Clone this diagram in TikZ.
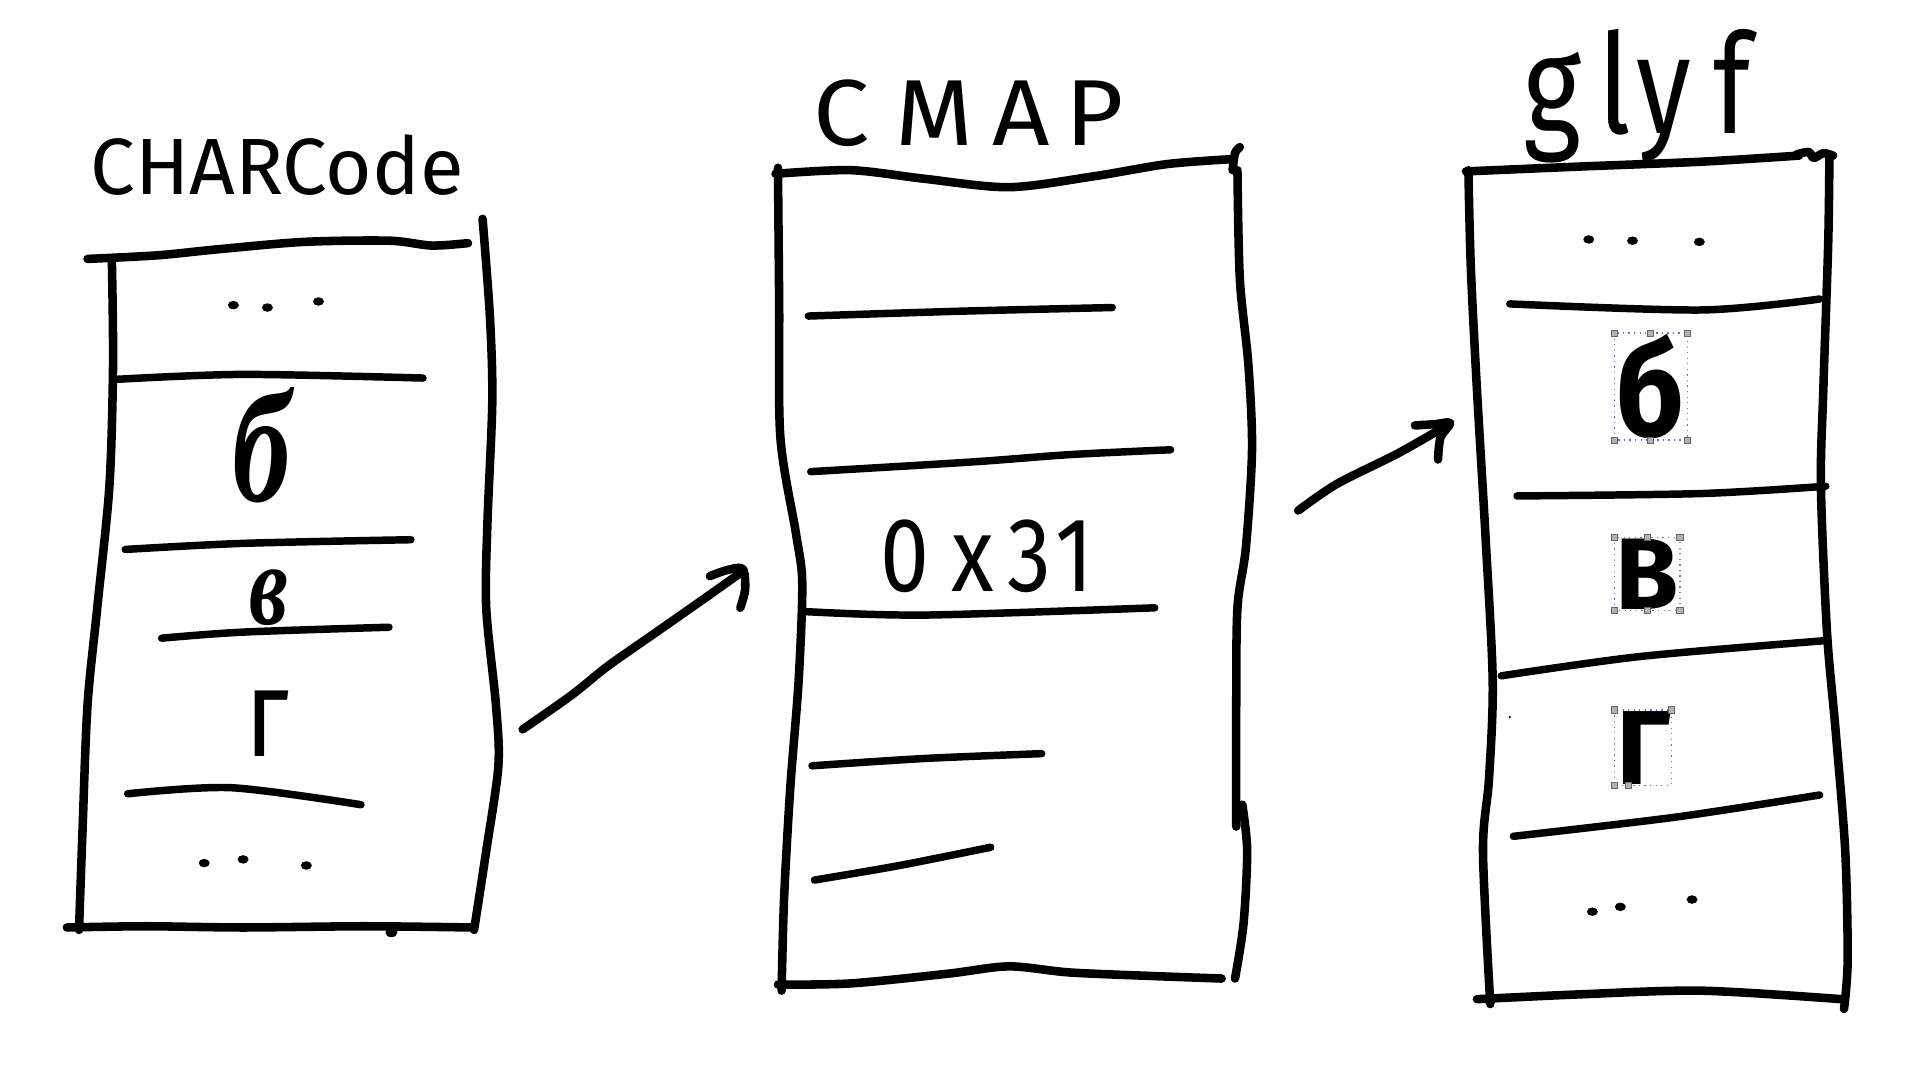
\documentclass[tikz,border=0pt]{standalone}
\usepackage{fontspec}
\setmainfont{DejaVu Sans}
\newfontfamily\hand{Fira Sans}
\newfontfamily\cursive{Liberation Serif}
\usepackage{graphicx}
\begin{document}
\begin{tikzpicture}[x=0.1mm,y=-0.1mm,
  frame/.style={line width=2pt,line cap=round,line join=round},
  rulel/.style={line width=1.75pt,line cap=round,line join=round},
  txt/.style={inner sep=0pt,outer sep=0pt,anchor=center,font=\hand},
  dotm/.style={fill=black},
  selbox/.style={draw=blue!60,densely dotted,line width=0.3pt},
  handle/.style={fill=gray!60,draw=gray!80!black,line width=0.2pt}]
\useasboundingbox[fill=white] (0,0) rectangle (1568,888);

% ---------- titles ----------
\node[txt] (tcharcode) at (228,136) {\resizebox*{30.7mm}{5.0mm}{CHARCode}};
\node[txt] (tcmap) at (797,93) {\resizebox*{25.5mm}{5.5mm}{C\kern0.25em M\kern0.2em A\kern0.15em P}};
\node[txt] (tglyf) at (1347,79) {\resizebox*{18.7mm}{11.0mm}{g\kern0.15em l\kern0.05em y\kern0.2em f}};

% ---------- left column ----------
\draw[frame] plot[smooth] coordinates {(72,213) (130,210) (180,205) (250,199) (320,198) (355,202) (385,200)};
\draw[frame] plot[smooth] coordinates {(92,213) (93,300) (90,400) (80,500) (72,580) (68,680) (65,765)};
\draw[frame] plot[smooth] coordinates {(397,180) (403,260) (405,330) (401,430) (400,500) (408,580) (410,630) (400,700) (390,765)};
\draw[frame] plot[smooth] coordinates {(55,763) (120,762) (200,763) (300,762) (388,763)};
\fill (322,767) ellipse (5 and 4);
\draw[rulel] plot[smooth] coordinates {(97,312) (200,308) (348,311)};
\draw[rulel] plot[smooth] coordinates {(103,452) (200,447) (338,444)};
\draw[rulel] plot[smooth] coordinates {(133,525) (200,520) (320,516)};
\draw[rulel] plot[smooth] coordinates {(105,653) (190,648) (297,662)};
\foreach \p in {(192,251),(220,253),(262,248),(168,710),(200,707),(252,712)} \fill[dotm] \p ellipse (4.5 and 3.5);
\node[txt] (lb) at (215,366) {\resizebox*{4.8mm}{9.5mm}{\cursive\bfseries\itshape б}};
\node[txt] (lv) at (221,492) {\resizebox*{3.2mm}{4.6mm}{\cursive\bfseries\itshape в}};
\node[txt] (lg) at (220,595) {\resizebox*{3.6mm}{5.4mm}{г}};

% ---------- arrow 1 ----------
\coordinate (a1s) at (430,600);
\coordinate (a1e) at (611,470);
\draw[frame] plot[smooth] coordinates {(a1s) (470,572) (500,548) (540,520) (580,492) (a1e)};
\draw[frame] plot[smooth] coordinates {(584,474) (598,469) (611,468) (613,485) (609,500)};

% ---------- middle column ----------
\draw[frame] plot[smooth] coordinates {(638,143) (700,140) (760,147) (830,154) (900,145) (960,135) (1012,131)};
\draw[frame] plot[smooth] coordinates {(1014,140) (1016,126) (1020,121)};
\draw[frame] plot[smooth] coordinates {(640,138) (641,250) (642,360) (655,440) (660,480) (657,560) (650,650) (645,740) (643,815)};
\draw[frame] plot[smooth] coordinates {(1018,140) (1020,230) (1027,300) (1030,370) (1025,450) (1018,500) (1017,580) (1017,680)};
\draw[frame] plot[smooth] coordinates {(1022,662) (1026,700) (1023,760) (1016,805)};
\draw[frame] plot[smooth] coordinates {(640,810) (700,809) (780,801) (830,795) (880,800) (950,803) (1005,805)};
\draw[rulel] plot[smooth] coordinates {(665,260) (790,256) (915,253)};
\draw[rulel] plot[smooth] coordinates {(667,388) (800,380) (880,374) (963,370)};
\draw[rulel] plot[smooth] coordinates {(660,503) (760,506) (950,500)};
\draw[rulel] plot[smooth] coordinates {(668,630) (760,624) (857,620)};
\draw[rulel] plot[smooth] coordinates {(670,724) (740,712) (815,697)};
\node[txt] (hex) at (812,458) {\resizebox*{17.5mm}{6.0mm}{0\kern0.25em x\kern0.15em 3\kern0.05em 1}};

% ---------- arrow 2 ----------
\coordinate (a2s) at (1068,420);
\coordinate (a2e) at (1192,349);
\draw[frame] plot[smooth] coordinates {(a2s) (1100,398) (1150,373) (a2e)};
\draw[frame] plot[smooth] coordinates {(1164,350) (1180,349) (1193,348) (1185,360) (1183,378)};

% ---------- right column ----------
\draw[frame] plot[smooth] coordinates {(1206,141) (1300,137) (1400,133) (1480,128)};
\draw[frame] plot[smooth] coordinates {(1478,127) (1488,125) (1492,130) (1500,126) (1508,128)};
\draw[frame] plot[smooth] coordinates {(1208,140) (1210,220) (1215,320) (1222,440) (1228,560) (1225,640) (1220,700) (1226,826)};
\draw[frame] plot[smooth] coordinates {(1505,128) (1504,200) (1500,320) (1498,400) (1503,520) (1510,600) (1518,700) (1520,790) (1517,830)};
\draw[frame] plot[smooth] coordinates {(1215,822) (1300,818) (1400,815) (1515,822)};
\draw[rulel] plot[smooth] coordinates {(1242,250) (1400,255) (1497,246)};
\draw[rulel] plot[smooth] coordinates {(1248,408) (1400,406) (1502,400)};
\draw[rulel] plot[smooth] coordinates {(1235,556) (1350,540) (1502,527)};
\draw[rulel] plot[smooth] coordinates {(1245,688) (1380,672) (1497,654)};
\foreach \p in {(1307,197),(1343,198),(1398,199),(1310,750),(1333,746),(1392,740)} \fill[dotm] \p ellipse (4.5 and 3.5);
\fill (1242,590) circle (1);

% selection boxes
\draw[selbox] (1328,274) rectangle (1388,362);
\draw[selbox] (1328,442) rectangle (1382,502);
\draw[selbox] (1328,584) rectangle (1375,646);
\node[txt] (rb) at (1358,318) {\resizebox*{5.6mm}{8.6mm}{\bfseries б}};
\node[txt] (rv) at (1355,472) {\resizebox*{5.2mm}{5.8mm}{\bfseries В}};
\node[txt] (rg) at (1352,615) {\resizebox*{4.5mm}{6.0mm}{\bfseries Г}};
\foreach \p in {(1328,274),(1388,274),(1328,362),(1388,362),(1358,274),(1358,362),(1328,442),(1382,442),(1328,502),(1382,502),(1355,442),(1355,502),(1328,584),(1375,584),(1328,646),(1340,646)}
  \draw[handle] \p ++(-2.5,-2.5) rectangle ++(5,5);
\end{tikzpicture}
\end{document}
